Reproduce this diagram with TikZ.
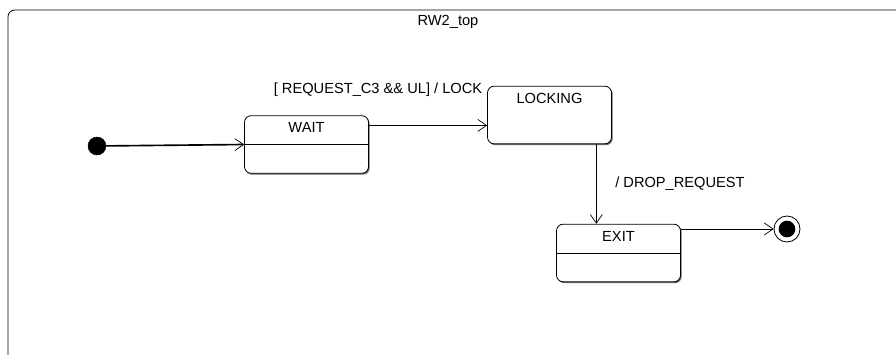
\documentclass[tikz,border=0pt]{standalone}
\usepackage{fontspec}
\setmainfont{Liberation Sans}
\usepackage{tikz}
\usetikzlibrary{arrows.meta, positioning, shadows}

\begin{document}
\begin{tikzpicture}[
    x=0.3mm, y=-0.3mm,
    state/.style = {rectangle, draw=black, line width=0.7pt, fill=white, rounded corners=2mm, minimum width=37.2mm, minimum height=17.3mm, inner sep=0pt, drop shadow={shadow xshift=0.35mm, shadow yshift=-0.4mm, fill=black!60, opacity=1}},
    statename/.style = {anchor=north, inner sep=0pt, yshift=-2.2mm, font=\fontsize{12.5}{14}\selectfont},
    guard/.style = {inner sep=0pt, font=\fontsize{12.5}{14}\selectfont},
    trans/.style = {draw=black, line width=0.6pt, -{Straight Barb[length=2.6mm, width=3.6mm, line width=0.6pt]}},
    divider/.style = {draw=black, line width=1.4pt}
]
\useasboundingbox (0,0) rectangle (896,354);

% Enclosing state machine frame
\draw [line width=0.7pt, rounded corners=2mm] (8,400) -- (8,10) -- (940,10);
\node (title) [guard, at={(448,22)}] {RW2\_top};

% Pseudo states
\node (init) [circle, fill=black, draw=black, minimum size=5.4mm, inner sep=0pt, at={(97,146)}] {};
\node (final) [circle, draw=black, line width=0.7pt, minimum size=7.8mm, inner sep=0pt, at={(787,229)}] {};
\fill [black] (final.center) circle (2.5mm);

% States
\node (wait) [state, at={(306.5,144.5)}] {};
\node (waitname) [statename, at={(wait.north)}] {WAIT};
\node (locking) [state, at={(549.5,115)}] {};
\node (lockingname) [statename, at={(locking.north)}] {LOCKING};
\node (exit) [state, at={(618.5,253)}] {};
\node (exitname) [statename, at={(exit.north)}] {EXIT};

% Compartment lines
\draw [divider] (wait.west) -- (wait.east);
\draw [line width=0.7pt] (exit.west) -- (exit.east);

% Transitions
\draw [trans, line width=1.4pt] (init) -- (wait.west);
\draw [trans] (wait.17) -- (wait.17 -| locking.west);
\draw [trans] (locking.-32) -- (locking.-32 |- exit.north);
\draw [trans] (exit.east |- final) -- (final.west);

% Transition labels
\node (lockguard) [guard, at={(378,90)}] {[ REQUEST\_C3 \&\& UL] / LOCK};
\node (dropaction) [guard, at={(680,184)}] {/ DROP\_REQUEST};

\end{tikzpicture}
\end{document}
